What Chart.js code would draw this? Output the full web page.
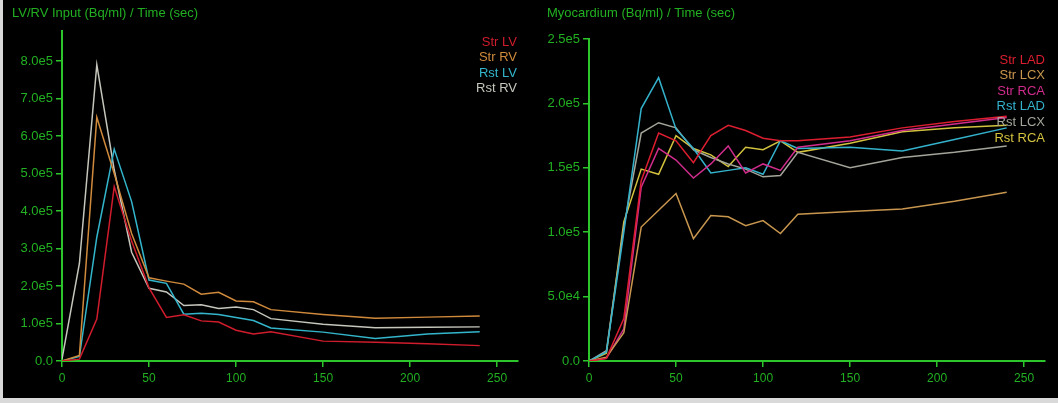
<!DOCTYPE html>
<html>
<head>
<meta charset="utf-8">
<script src="https://cdn.jsdelivr.net/npm/chart.js@4"></script>
<style>
  html, body { margin: 0; padding: 0; background: #d9d9d9; }
  #frame { position: absolute; left: 3px; top: 0; width: 1055px; height: 398px; background: #000; }
  #left { position: absolute; left: 3px; top: 0; }
  #right { position: absolute; left: 530px; top: 0; }
</style>
</head>
<body>
<div id="frame"></div>
<canvas id="left" width="527" height="398"></canvas>
<canvas id="right" width="528" height="398"></canvas>
<script>
// sample times (sec)
const times = [0, 10, 20, 30, 40, 50, 60, 70, 80, 90, 100, 110, 120, 150, 180, 210, 240];

// LV/RV input (Bq/ml)
const strLV = [0, 5000, 112000, 465000, 320000, 195000, 116000, 123000, 107000, 104000, 82000, 72000, 78000, 53000, 50000, 46000, 41000];
const strRV = [0, 15000, 650000, 500000, 340000, 222000, 213000, 205000, 178000, 183000, 160000, 158000, 137000, 124000, 114000, 117000, 120000];
const rstLV = [0, 12000, 330000, 565000, 425000, 216000, 207000, 125000, 127000, 124000, 116000, 108000, 88000, 77000, 60000, 72000, 78000];
const rstRV = [5000, 260000, 790000, 510000, 290000, 194000, 184000, 148000, 150000, 140000, 144000, 137000, 113000, 98000, 89000, 90000, 91000];

// myocardium (Bq/ml)
const strLAD = [0, 2000, 33000, 140000, 177000, 171000, 154000, 175000, 183000, 179000, 173000, 171000, 171000, 174000, 181000, 186000, 190000];
const strLCX = [0, 3000, 22000, 104000, 117000, 130000, 95000, 113000, 112000, 105000, 109000, 99000, 114000, 116000, 118000, 124000, 131000];
const strRCA = [0, 2000, 25000, 135000, 165000, 156000, 142000, 153000, 167000, 146000, 153000, 148000, 166000, 171000, 179000, 184000, 189000];
const rstLAD = [0, 7000, 100000, 196000, 220000, 180000, 165000, 146000, 148000, 150000, 145000, 171000, 165000, 166000, 163000, 172000, 181000];
const rstLCX = [0, 8000, 104000, 177000, 185000, 181000, 164000, 158000, 153000, 149000, 143000, 144000, 162000, 150000, 158000, 162000, 167000];
const rstRCA = [0, 6000, 108000, 149000, 145000, 175000, 165000, 160000, 151000, 166000, 164000, 171000, 162000, 169000, 178000, 181000, 183000];

// tick labels
const xTicks = [0, 50, 100, 150, 200, 250];
const leftYTicks = [0, 100000, 200000, 300000, 400000, 500000, 600000, 700000, 800000];
const rightYTicks = [0, 50000, 100000, 150000, 200000, 250000];

const GREEN = "#2cc62c";
const TEXT_GREEN = "#22b022";
const FONT = "'Liberation Sans', Arial, sans-serif";

function pts(ys) {
  return ys.map((y, i) => ({ x: times[i], y: y }));
}

function line(label, ys, color) {
  return { label: label, data: pts(ys), borderColor: color, backgroundColor: color,
           borderWidth: 1.5, pointRadius: 0, tension: 0, fill: false };
}

function tickLabel(v) {
  if (v === 0) return "0.0";
  return v.toExponential(1).replace("e+", "e");
}

// draws the title and a right-aligned coloured text legend
const overlay = {
  id: "overlay",
  afterDraw(chart, args, opts) {
    const ctx = chart.ctx;
    ctx.save();
    ctx.font = "13px " + FONT;
    ctx.textBaseline = "middle";
    ctx.fillStyle = TEXT_GREEN;
    ctx.textAlign = "left";
    ctx.fillText(opts.title, opts.titleX, 13);
    ctx.textAlign = "right";
    chart.data.datasets.forEach((ds, i) => {
      ctx.fillStyle = ds.borderColor;
      ctx.fillText(ds.label, opts.legendX, opts.legendY + i * opts.legendGap);
    });
    ctx.restore();
  }
};

function makeChart(el, datasets, yMax, yTicks, pad, o) {
  return new Chart(el, {
    type: "line",
    data: { datasets: datasets },
    plugins: [overlay],
    options: {
      responsive: false,
      animation: false,
      layout: { padding: { top: pad.top, right: pad.right, left: 0, bottom: 0 } },
      plugins: {
        legend: { display: false },
        tooltip: { enabled: false },
        overlay: o,
      },
      scales: {
        x: {
          type: "linear", min: 0, max: 262,
          afterFit: (s) => { s.height = 37; },
          afterBuildTicks: (s) => { s.ticks = xTicks.map(v => ({ value: v })); },
          border: { color: GREEN, width: 2 },
          grid: { drawOnChartArea: false, color: GREEN, tickLength: 6, lineWidth: 1.5 },
          ticks: { color: TEXT_GREEN, font: { family: FONT, size: 12 }, padding: 4, maxRotation: 0 },
        },
        y: {
          min: 0, max: yMax,
          afterFit: (s) => { s.width = 59; },
          afterBuildTicks: (s) => { s.ticks = yTicks.map(v => ({ value: v })); },
          border: { color: GREEN, width: 2 },
          grid: { drawOnChartArea: false, color: GREEN, tickLength: 6, lineWidth: 1.5 },
          ticks: { color: TEXT_GREEN, font: { family: FONT, size: 13 }, padding: 3, callback: tickLabel },
        },
      },
    },
  });
}

makeChart(document.getElementById("left"), [
  line("Str LV", strLV, "#d01c2c"),
  line("Str RV", strRV, "#d08a3c"),
  line("Rst LV", rstLV, "#33b6cc"),
  line("Rst RV", rstRV, "#c6c6bc"),
], 880000, leftYTicks, { top: 31, right: 12 },
  { title: "LV/RV Input (Bq/ml) / Time (sec)", titleX: 9, legendX: 514, legendY: 42, legendGap: 15.5 });

makeChart(document.getElementById("right"), [
  line("Str LAD", strLAD, "#dc1e30"),
  line("Str LCX", strLCX, "#c8964e"),
  line("Str RCA", strRCA, "#d02c8c"),
  line("Rst LAD", rstLAD, "#34b2cc"),
  line("Rst LCX", rstLCX, "#a4a49a"),
  line("Rst RCA", rstRCA, "#d2c23e"),
], 250000, rightYTicks, { top: 39, right: 13 },
  { title: "Myocardium (Bq/ml) / Time (sec)", titleX: 17, legendX: 515, legendY: 60, legendGap: 15.6 });
</script>
</body>
</html>
